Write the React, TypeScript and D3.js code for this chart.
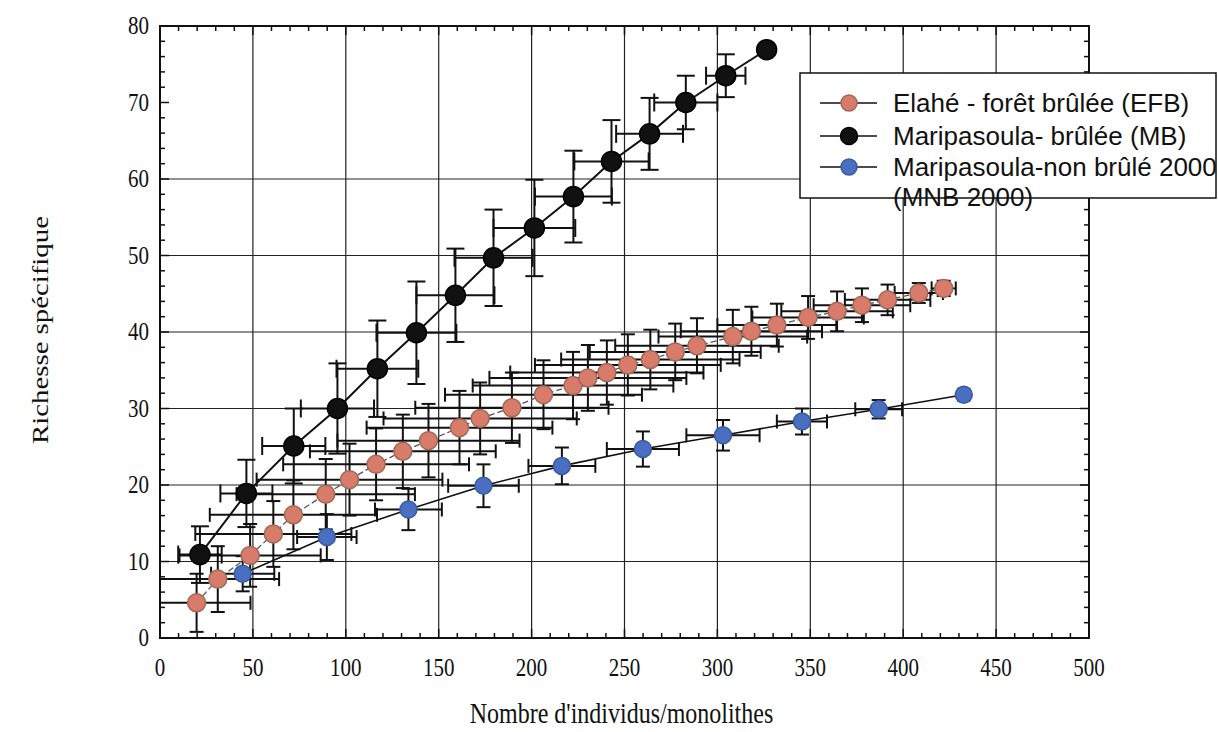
import React, { useEffect, useRef } from "react";
import * as d3 from "d3";

// axis ticks
const xTicks = [0, 50, 100, 150, 200, 250, 300, 350, 400, 450, 500];
const yTicks = [0, 10, 20, 30, 40, 50, 60, 70, 80];
const yGrid = [10, 20, 30, 40, 50, 60]; // the 70 line is missing in the original

// Elahé - forêt brûlée (EFB)
const efbX = [19.7, 31.1, 48.5, 61, 71.8, 89.2, 102, 116.3, 130.7, 144.5, 161.2, 172.3, 189.4, 206.4, 222.3, 230.3, 240.5, 251.8, 263.9, 277.3, 289, 308.3, 318.3, 332, 348.8, 364.4, 377.8, 391.6, 408.4, 421.8];
const efbY = [4.6, 7.7, 10.8, 13.6, 16.1, 18.8, 20.7, 22.7, 24.4, 25.8, 27.5, 28.7, 30.1, 31.8, 33.0, 34.0, 34.7, 35.7, 36.4, 37.4, 38.2, 39.4, 40.1, 40.9, 41.9, 42.7, 43.5, 44.2, 45.1, 45.7];
const efbXErr = [29, 33, 38, 42, 45, 48, 50, 50, 50, 49, 50, 52, 52, 53, 54, 53, 52, 50, 48, 46, 44, 40, 38, 32, 30, 30, 26, 23, 13, 6.5];
const efbYErr = [3.8, 4.3, 4.1, 4.3, 4.5, 4.6, 4.7, 4.7, 4.8, 4.8, 4.8, 4.7, 4.6, 4.5, 4.4, 4.3, 4.2, 4.0, 3.9, 3.7, 3.6, 3.5, 3.2, 2.8, 2.8, 2.6, 2.2, 2.0, 1.3, 1.0];

// Maripasoula- brûlée (MB)
const mbX = [21.5, 46.5, 72, 95.5, 117, 138, 159, 179.5, 201.5, 222.5, 243, 263.5, 283, 304.5, 326.5];
const mbY = [10.9, 18.9, 25.1, 30.0, 35.2, 39.9, 44.8, 49.7, 53.6, 57.7, 62.3, 65.9, 70.0, 73.5, 76.9];
const mbXErr = [11.7, 14, 17, 19.7, 22, 21.5, 21, 21, 22, 20.7, 20, 18, 17, 10.6, 0];
const mbYErr = [3.7, 4.4, 4.9, 5.9, 6.3, 6.7, 6.1, 6.3, 6.3, 6, 5.4, 4.7, 3.5, 2.8, 0];

// Maripasoula-non brûlé 2000 (MNB 2000)
const mnbX = [44.5, 89.8, 133.7, 174.1, 216.3, 259.9, 303, 345.5, 386.8, 432.6];
const mnbY = [8.4, 13.2, 16.8, 19.9, 22.5, 24.7, 26.5, 28.3, 29.9, 31.8];
const mnbXErr = [17, 16, 18, 19, 18, 19.4, 19.7, 13.5, 12.6, 3];
const mnbYErr = [2.3, 3, 2.7, 2.8, 2.4, 2.3, 2, 1.7, 1.2, 0.5];

const legendLabels = ["Elahé - forêt brûlée (EFB)", "Maripasoula- brûlée (MB)", "Maripasoula-non brûlé 2000"];

const Chart = () => {
  const svgRef = useRef<SVGSVGElement | null>(null);

  useEffect(() => {
    if (!svgRef.current) return;
    const svg = d3.select(svgRef.current);
    svg.selectAll("*").remove();

    const width = 1218;
    const height = 732;
    const left = 160, right = 1089, top = 26, bottom = 638;
    const stretch = 1.2; // the scanned figure is taller than wide

    svg.attr("width", width).attr("height", height);

    const x = d3.scaleLinear().domain([0, 500]).range([left, right]);
    const y = d3.scaleLinear().domain([0, 80]).range([bottom, top]);

    svg.append("rect").attr("width", width).attr("height", height).attr("fill", "#fff");

    svg.append("defs").append("clipPath").attr("id", "plot-clip")
      .append("rect").attr("x", left).attr("y", top).attr("width", right - left).attr("height", bottom - top);

    // grid
    const grid = svg.append("g").attr("stroke", "#222").attr("stroke-width", 1.2);
    grid.selectAll("line.v").data(xTicks.slice(1, -1)).enter().append("line")
      .attr("x1", d => x(d)).attr("x2", d => x(d)).attr("y1", top).attr("y2", bottom);
    grid.selectAll("line.h").data(yGrid).enter().append("line")
      .attr("y1", d => y(d)).attr("y2", d => y(d)).attr("x1", left).attr("x2", right);

    // minor + major ticks, pointing inwards on all four sides
    const ticks = svg.append("g").attr("stroke", "#111").attr("stroke-width", 1.5);
    const xMinor = d3.range(0, 501, 10);
    const yMinor = d3.range(0, 81, 2);
    xMinor.forEach(v => {
      const len = v % 50 === 0 ? 9 : 5;
      ticks.append("line").attr("x1", x(v)).attr("x2", x(v)).attr("y1", bottom).attr("y2", bottom - len);
      ticks.append("line").attr("x1", x(v)).attr("x2", x(v)).attr("y1", top).attr("y2", top + len);
    });
    yMinor.forEach(v => {
      const len = v % 10 === 0 ? 9 : 5;
      ticks.append("line").attr("y1", y(v)).attr("y2", y(v)).attr("x1", left).attr("x2", left + len);
      ticks.append("line").attr("y1", y(v)).attr("y2", y(v)).attr("x1", right).attr("x2", right - len);
    });

    // frame
    svg.append("rect").attr("x", left).attr("y", top).attr("width", right - left).attr("height", bottom - top)
      .attr("fill", "none").attr("stroke", "#111").attr("stroke-width", 2);

    // tick labels
    const serif = "'Liberation Serif', 'Times New Roman', serif";
    svg.append("g").selectAll("text").data(xTicks).enter().append("text")
      .attr("transform", d => `translate(${x(d)}, ${bottom + 38}) scale(1, ${stretch})`)
      .attr("text-anchor", "middle").attr("font-family", serif).attr("font-size", 21).attr("fill", "#111")
      .text(d => d);
    svg.append("g").selectAll("text").data(yTicks).enter().append("text")
      .attr("transform", d => `translate(${left - 11}, ${y(d) + 8}) scale(1, ${stretch})`)
      .attr("text-anchor", "end").attr("font-family", serif).attr("font-size", 21).attr("fill", "#111")
      .text(d => d);

    // axis titles
    svg.append("text")
      .attr("transform", `translate(${(left + right) / 2 - 3}, 723) scale(1, ${stretch})`)
      .attr("text-anchor", "middle").attr("font-family", serif).attr("font-size", 24).attr("fill", "#111")
      .text("Nombre d'individus/monolithes");
    svg.append("text")
      .attr("transform", `translate(48, 330) rotate(-90) scale(${stretch}, 1)`)
      .attr("text-anchor", "middle").attr("font-family", serif).attr("font-size", 24).attr("fill", "#111")
      .text("Richesse spécifique");

    const plot = svg.append("g").attr("clip-path", "url(#plot-clip)");

    const drawErrors = (xs: number[], ys: number[], xe: number[], ye: number[], cap: number) => {
      const g = plot.append("g").attr("stroke", "#111").attr("stroke-width", 2);
      xs.forEach((xv, i) => {
        const cx = x(xv), cy = y(ys[i]);
        if (xe[i] > 0) {
          const x0 = x(xv - xe[i]), x1 = x(xv + xe[i]);
          g.append("line").attr("x1", x0).attr("x2", x1).attr("y1", cy).attr("y2", cy);
          g.append("line").attr("x1", x0).attr("x2", x0).attr("y1", cy - cap).attr("y2", cy + cap);
          g.append("line").attr("x1", x1).attr("x2", x1).attr("y1", cy - cap).attr("y2", cy + cap);
        }
        if (ye[i] > 0) {
          const y0 = y(ys[i] - ye[i]), y1 = y(ys[i] + ye[i]);
          g.append("line").attr("x1", cx).attr("x2", cx).attr("y1", y0).attr("y2", y1);
          g.append("line").attr("x1", cx - cap).attr("x2", cx + cap).attr("y1", y0).attr("y2", y0);
          g.append("line").attr("x1", cx - cap).attr("x2", cx + cap).attr("y1", y1).attr("y2", y1);
        }
      });
    };

    const drawSeries = (xs: number[], ys: number[], fill: string, stroke: string, r: number,
      lineColor: string, lineWidth: number, dash: string | null) => {
      const pts: [number, number][] = xs.map((v, i) => [v, ys[i]]);
      const line = d3.line<[number, number]>().x(d => x(d[0])).y(d => y(d[1]));
      plot.append("path").datum(pts).attr("d", line).attr("fill", "none")
        .attr("stroke", lineColor).attr("stroke-width", lineWidth)
        .attr("stroke-dasharray", dash);
      plot.append("g").selectAll("circle").data(pts).enter().append("circle")
        .attr("cx", d => x(d[0])).attr("cy", d => y(d[1])).attr("r", r)
        .attr("fill", fill).attr("stroke", stroke).attr("stroke-width", 1.5);
    };

    drawErrors(efbX, efbY, efbXErr, efbYErr, 7);
    drawErrors(mnbX, mnbY, mnbXErr, mnbYErr, 7);
    drawErrors(mbX, mbY, mbXErr, mbYErr, 9);

    drawSeries(efbX, efbY, "#d97b6a", "#9c6a58", 9, "#555", 1.3, "6,3");
    drawSeries(mnbX, mnbY, "#4a6fc0", "#3a5aa0", 8.5, "#111", 1.6, null);
    drawSeries(mbX, mbY, "#111", "#000", 10, "#111", 2, null);

    // legend
    const lg = svg.append("g");
    lg.append("rect").attr("x", 800).attr("y", 73).attr("width", 416).attr("height", 125)
      .attr("fill", "#fff").attr("stroke", "#111").attr("stroke-width", 1.5);
    const sans = "'Liberation Sans', Arial, sans-serif";
    const legendStyle = [
      { fill: "#d97b6a", stroke: "#9c6a58", r: 8 },
      { fill: "#111", stroke: "#000", r: 8.5 },
      { fill: "#4a6fc0", stroke: "#3a5aa0", r: 8 },
    ];
    const rowY = [103, 136, 167];
    legendLabels.forEach((label, i) => {
      const ry = rowY[i];
      lg.append("line").attr("x1", 820).attr("x2", 877).attr("y1", ry).attr("y2", ry)
        .attr("stroke", "#111").attr("stroke-width", 1.5);
      lg.append("circle").attr("cx", 849).attr("cy", ry).attr("r", legendStyle[i].r)
        .attr("fill", legendStyle[i].fill).attr("stroke", legendStyle[i].stroke).attr("stroke-width", 1.5);
      lg.append("text").attr("x", 893).attr("y", ry + 9)
        .attr("font-family", sans).attr("font-size", 26).attr("fill", "#111").text(label);
    });
    lg.append("text").attr("x", 893).attr("y", 206)
      .attr("font-family", sans).attr("font-size", 26).attr("fill", "#111").text("(MNB 2000)");
  }, []);

  return <svg ref={svgRef} style={{ position: "absolute", left: 0, top: 0 }}></svg>;
};

export default function App() {
  return <Chart />;
}
